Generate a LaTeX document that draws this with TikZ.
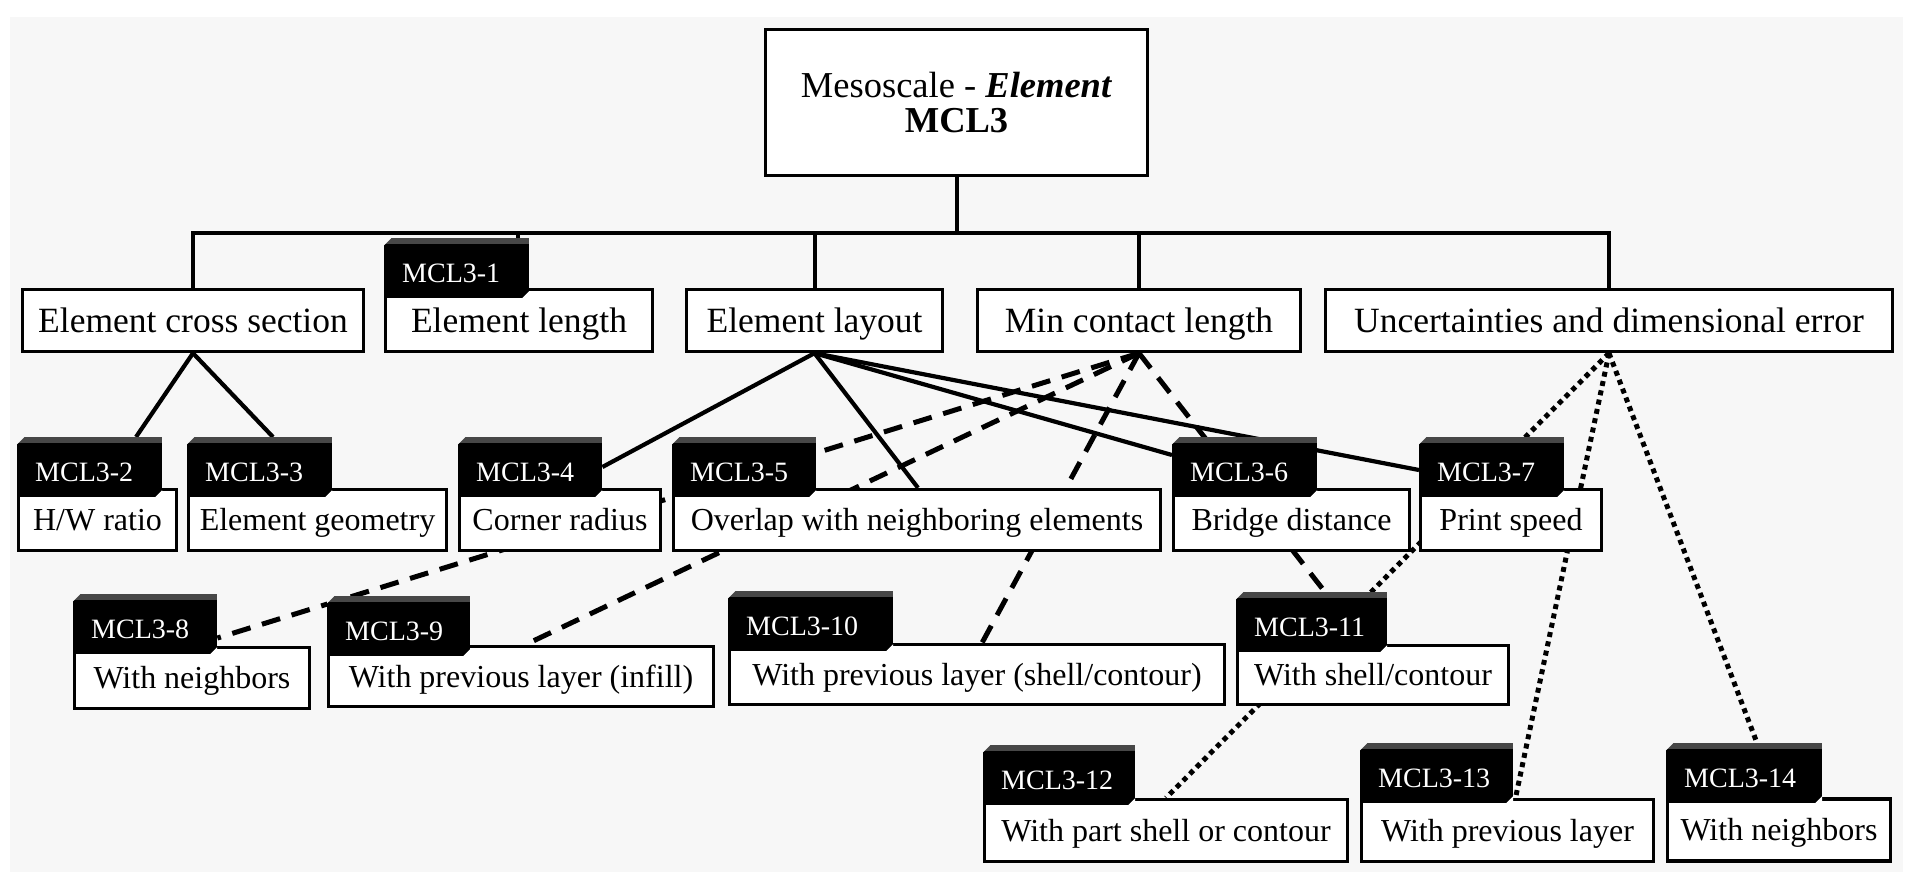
\documentclass[tikz,border=0pt]{standalone}
\usepackage{fontspec}
\setmainfont{Liberation Serif}
\usetikzlibrary{calc}

\pgfdeclarelayer{bg}
\pgfdeclarelayer{edges}
\pgfsetlayers{bg,edges,main}

\definecolor{pagegray}{HTML}{F7F7F7}
\definecolor{bevel}{HTML}{474747}

\newcommand{\rootsize}{\fontsize{36.5}{35}\selectfont}
\newcommand{\lvlA}{\fontsize{35.5}{40}\selectfont}
\newcommand{\lvlB}{\fontsize{32}{36}\selectfont}
\newcommand{\tagsize}{\fontsize{28}{32}\selectfont}

\tikzset{
  frame/.style={draw=black, line width=3.3pt, fill=white, inner sep=0pt},
  rootbox/.style={frame, align=center, font=\rootsize},
  boxA/.style={frame, font=\lvlA, text height=23.4pt, text depth=0pt},
  boxB/.style={frame, font=\lvlB, text height=21.1pt, text depth=0pt},
  tag/.style={fill=black, text=white, anchor=north west, font=\tagsize,
    inner xsep=18pt, inner ysep=0pt, text height=44pt, text depth=16pt,
    align=left,
    path picture={
      \fill[bevel] (path picture bounding box.north west) -- (path picture bounding box.north east)
         -- ++(0pt,-6pt) -- ([yshift=-6pt]path picture bounding box.north west) -- cycle;
      \fill[pagegray] (path picture bounding box.north west) -- ++(7pt,0pt) -- ++(-7pt,-7pt) -- cycle;
      \fill[white] (path picture bounding box.south east) -- ++(-7pt,0pt) -- ++(7pt,7pt) -- cycle;
    }},
  tree/.style={line width=4pt, line join=miter},
  solidlink/.style={line width=4.2pt},
  dashlink/.style={line width=5pt, dash pattern=on 19pt off 12pt},
  dotlink/.style={line width=5pt, dash pattern=on 5pt off 4.5pt},
}

\begin{document}
\begin{tikzpicture}[x=1pt, y=-1pt]
\useasboundingbox (0,0) rectangle (1913,879);
\begin{pgfonlayer}{bg}
  \fill[white] (0,0) rectangle (1913,879);
  \fill[pagegray] (10,17) rectangle (1903,872);
\end{pgfonlayer}

% root
\node[rootbox, minimum width=382pt, minimum height=146pt] (root) at (956.5,102.5)
  {Mesoscale - \textbf{\textit{Element}}\\\textbf{MCL3}};

% first level
\node[boxA, minimum width=341pt, minimum height=62pt] (ecs)  at (193,320.5)  {Element cross section};
\node[boxA, minimum width=267pt, minimum height=62pt] (elen) at (519,320.5)  {Element length};
\node[boxA, minimum width=256pt, minimum height=62pt] (elay) at (814.5,320.5) {Element layout};
\node[boxA, minimum width=323pt, minimum height=62pt] (minc) at (1139,320.5) {Min contact length};
\node[boxA, minimum width=567pt, minimum height=62pt] (unc)  at (1609,320.5) {Uncertainties and dimensional error};
\node[tag, text width=109pt] (t1) at (384,238) {MCL3-1};

% second level
\node[boxB, minimum width=158pt, minimum height=61pt] (b2) at (97.5,520)  {H/W ratio};
\node[boxB, minimum width=258pt, minimum height=61pt] (b3) at (317.5,520) {Element geometry};
\node[boxB, minimum width=201pt, minimum height=61pt] (b4) at (560,520)   {Corner radius};
\node[boxB, minimum width=487pt, minimum height=61pt] (b5) at (917,520)   {Overlap with neighboring elements};
\node[boxB, minimum width=236pt, minimum height=61pt] (b6) at (1291.5,520) {Bridge distance};
\node[boxB, minimum width=181pt, minimum height=61pt] (b7) at (1511,520)  {Print speed};
\node[tag, text width=109pt] (t2) at (17,437)   {MCL3-2};
\node[tag, text width=109pt] (t3) at (187,437)  {MCL3-3};
\node[tag, text width=108pt] (t4) at (458,437)  {MCL3-4};
\node[tag, text width=108pt] (t5) at (672,437)  {MCL3-5};
\node[tag, text width=109pt] (t6) at (1172,437) {MCL3-6};
\node[tag, text width=109pt] (t7) at (1419,437) {MCL3-7};

% third level
\node[boxB, minimum width=235pt, minimum height=61pt] (b8)  at (192,678)    {With neighbors};
\node[boxB, minimum width=385pt, minimum height=60pt] (b9)  at (521,676.5)  {With previous layer (infill)};
\node[boxB, minimum width=495pt, minimum height=60pt] (b10) at (977,674.5)  {With previous layer (shell/contour)};
\node[boxB, minimum width=271pt, minimum height=59pt] (b11) at (1373,675)   {With shell/contour};
\node[tag, text width=108pt] (t8)  at (73,594)   {MCL3-8};
\node[tag, text width=107pt] (t9)  at (327,596)  {MCL3-9};
\node[tag, text width=129pt] (t10) at (728,591)  {MCL3-10};
\node[tag, text width=115pt] (t11) at (1236,592) {MCL3-11};

% fourth level
\node[boxB, minimum width=363pt, minimum height=62pt] (b12) at (1166,830.5)   {With part shell or contour};
\node[boxB, minimum width=292pt, minimum height=62pt] (b13) at (1507.5,830.5) {With previous layer};
\node[boxB, minimum width=223pt, minimum height=62pt] (b14) at (1779,830)     {With neighbors};
\node[tag, text width=116pt] (t12) at (983,745)  {MCL3-12};
\node[tag, text width=117pt] (t13) at (1360,743) {MCL3-13};
\node[tag, text width=120pt] (t14) at (1666,743) {MCL3-14};

\begin{pgfonlayer}{edges}
  % hierarchy bar
  \coordinate (bar) at ($(root.south)+(0,56)$);
  \draw[tree] (root.south) -- (bar);
  \draw[tree] (ecs.north) -- (ecs.north |- bar) -- (unc.north |- bar) -- (unc.north);
  \draw[tree] (elay.north |- bar) -- (elay.north);
  \draw[tree] (minc.north |- bar) -- (minc.north);
  \coordinate (t1top) at ($(t1.north east)+(-11,0)$);
  \draw[tree] (t1top |- bar) -- (t1top);

  % cross section
  \draw[solidlink] (ecs.south) -- ($(t2.north west)+(119,0)$);
  \draw[solidlink] (ecs.south) -- ($(t3.north west)+(86,0)$);

  % layout
  \draw[solidlink] (elay.south) -- ($(t4.north east)+(0,30)$);
  \draw[solidlink] (elay.south) -- ($(b5.north)+(1,0)$);
  \draw[solidlink] (elay.south) -- ($(t6.north west)+(0,18)$);
  \draw[solidlink] (elay.south) -- ($(t7.north west)+(0,33)$);

  % contact length
  \draw[dashlink] (minc.south) -- ($(t8.north east)+(0,44)$);
  \draw[dashlink] (minc.south) -- ($(b9.north)+(4,0)$);
  \draw[dashlink] (minc.south) -- ($(b10.north)+(5,0)$);
  \draw[dashlink] (minc.south) -- ($(t11.north west)+(89,0)$);

  % uncertainties
  \draw[dotlink] (unc.south) -- (b12.north);
  \draw[dotlink] (unc.south) -- ($(b13.north)+(8,0)$);
  \draw[dotlink] (unc.south) -- ($(t14.north west)+(91,0)$);
\end{pgfonlayer}
\end{tikzpicture}
\end{document}
